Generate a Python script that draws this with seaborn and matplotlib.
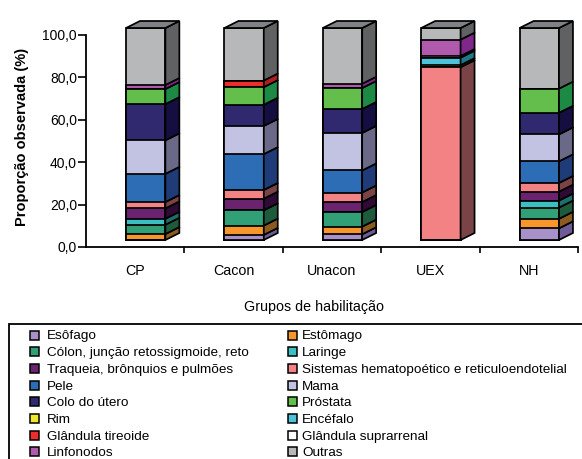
import numpy as np
import pandas as pd
import matplotlib
matplotlib.use("Agg")
import matplotlib.pyplot as plt
import seaborn as sns
from matplotlib.patches import Polygon, Rectangle
from matplotlib.transforms import ScaledTranslation

# ---- data -------------------------------------------------------------
groups = ["CP", "Cacon", "Unacon", "UEX", "NH"]

esofago = [0.0, 2.4, 2.7, 0.0, 5.5]
estomago = [2.8, 4.4, 3.6, 0.0, 4.5]
colon = [4.4, 7.2, 6.9, 0.0, 5.3]
laringe = [2.8, 0.0, 0.0, 0.0, 3.3]
traqueia = [4.9, 5.5, 4.7, 0.0, 4.2]
hemato = [3.0, 4.1, 4.5, 81.5, 4.1]
pele = [13.3, 16.9, 10.4, 0.0, 10.2]
mama = [15.8, 13.3, 17.7, 0.0, 12.7]
colo_utero = [17.1, 10.0, 11.3, 0.0, 10.2]
prostata = [7.1, 8.3, 9.9, 0.0, 11.4]
rim = [0.0, 0.0, 0.0, 1.0, 0.0]
encefalo = [0.0, 0.0, 0.0, 3.5, 0.0]
tireoide = [0.0, 3.1, 0.0, 0.0, 0.0]
suprarrenal = [0.0, 0.0, 0.0, 0.8, 0.0]
linfonodos = [1.9, 0.0, 2.0, 7.7, 0.0]
outras = [26.9, 24.8, 26.3, 5.5, 28.6]

sites = [
    "Esôfago", "Estômago",
    "Cólon, junção retossigmoide, reto", "Laringe",
    "Traqueia, brônquios e pulmões", "Sistemas hematopoético e reticuloendotelial",
    "Pele", "Mama",
    "Colo do útero", "Próstata",
    "Rim", "Encéfalo",
    "Glândula tireoide", "Glândula suprarrenal",
    "Linfonodos", "Outras",
]
series = [esofago, estomago, colon, laringe, traqueia, hemato, pele, mama,
          colo_utero, prostata, rim, encefalo, tireoide, suprarrenal,
          linfonodos, outras]

ytick_values = [0, 20, 40, 60, 80, 100]
ytick_labels = ["0,0", "20,0", "40,0", "60,0", "80,0", "100,0"]

# ---- colours ----------------------------------------------------------
front_colors = [
    "#A890C8", "#F6962B", "#31A077", "#3BBFC0", "#6B2370", "#F28283",
    "#2D6DB5", "#C2C2E2", "#30296F", "#63BE4B", "#EEE82A", "#4DC3D9",
    "#ED2D2D", "#FFFFFF", "#B05AAE", "#B7B8BA",
]
side_colors = [
    "#6E5A96", "#8A5A1E", "#1E5A3C", "#1E6E6E", "#2E0A35", "#7A4446",
    "#1F3C78", "#6A6A88", "#150E40", "#1C8A44", "#8A8A20", "#1E7A88",
    "#B01E1E", "#909090", "#80288A", "#606163",
]
top_color = "#808184"

# ---- figure -----------------------------------------------------------
W, H, DPI = 582, 459, 100
sns.set_theme(style="ticks")
plt.rcParams["font.family"] = ["Liberation Sans", "DejaVu Sans"]
plt.rcParams["text.color"] = "black"
plt.rcParams["axes.labelcolor"] = "black"

fig = plt.figure(figsize=(W / DPI, H / DPI), dpi=DPI)
fig.patch.set_facecolor("white")
ax = fig.add_axes([86 / W, 1 - 247 / H, 492 / W, 212 / H])
ax.set_facecolor("white")

df = pd.DataFrame(np.array(series).T, index=groups, columns=sites)
cum = df.cumsum(axis=1)

BAR_W = 0.4
EDGE = 1.25
# front faces: cumulative bars drawn from the top segment downwards
for j in reversed(range(len(sites))):
    sns.barplot(x=groups, y=cum.iloc[:, j].values, order=groups,
                color=front_colors[j], saturation=1, width=BAR_W,
                edgecolor="black", linewidth=EDGE, ax=ax)

# pseudo-3D: front plane shifted, plus side and top faces
shift = ScaledTranslation(10.5 / DPI, 7 / DPI, fig.dpi_scale_trans)
tr = ax.transData + shift
for p in ax.patches:
    p.set_transform(tr)
    p.set_clip_on(False)

DX, DY = 0.142, 3.3
for i in range(len(groups)):
    xr = i + BAR_W / 2
    xl = i - BAR_W / 2
    for j in range(len(sites)):
        v = df.iloc[i, j]
        if v <= 0:
            continue
        t = cum.iloc[i, j]
        b = t - v
        ax.add_patch(Polygon([(xr, b), (xr + DX, b + DY), (xr + DX, t + DY), (xr, t)],
                             closed=True, facecolor=side_colors[j], edgecolor="black",
                             linewidth=EDGE, transform=tr, clip_on=False))
    total = cum.iloc[i, -1]
    ax.add_patch(Polygon([(xl, total), (xr, total), (xr + DX, total + DY), (xl + DX, total + DY)],
                         closed=True, facecolor=top_color, edgecolor="black",
                         linewidth=EDGE, transform=tr, clip_on=False))

ax.set_xlim(-0.5, len(groups) - 0.5)
ax.set_ylim(0, 100)
ax.set_xlabel("")
ax.set_ylabel("")
sns.despine(ax=ax)
for s in ("left", "bottom"):
    ax.spines[s].set_color("black")
    ax.spines[s].set_linewidth(1.3)

ax.set_yticks(ytick_values)
ax.set_yticklabels(ytick_labels)
ax.tick_params(axis="y", direction="out", length=5.5, width=1.2, color="black",
               labelsize=10, pad=1, labelcolor="black")
ax.set_xticks(range(len(groups)))
ax.set_xticklabels(groups)
ax.set_xticks([k + 0.5 for k in range(len(groups))], minor=True)
ax.tick_params(axis="x", which="major", length=0, labelsize=10.3, pad=12, labelcolor="black")
ax.tick_params(axis="x", which="minor", direction="out", length=4, width=1.2, color="black")

fig.text(22 / W, 1 - 137 / H, "Proporção observada (%)", rotation=90,
         ha="center", va="center", fontsize=10.5, fontweight="bold")
fig.text(314 / W, 1 - 307 / H, "Grupos de habilitação", ha="center", va="center",
         fontsize=10.3)

# ---- legend box -------------------------------------------------------
fig.add_artist(Rectangle((9 / W, -0.05), 1.2, (1 - 324 / H) + 0.05,
                         transform=fig.transFigure, fill=False,
                         edgecolor="black", linewidth=1.3))
marker_x = [30, 288]
text_x = [47, 302]
MS = 9
for k, name in enumerate(sites):
    col, row = k % 2, k // 2
    yc = 335 + row * 16.7
    fig.add_artist(Rectangle((marker_x[col] / W, 1 - (yc + MS / 2) / H), MS / W, MS / H,
                             transform=fig.transFigure, facecolor=front_colors[k],
                             edgecolor="black", linewidth=1.1))
    fig.text(text_x[col] / W, 1 - yc / H, name, ha="left", va="center_baseline",
             fontsize=9.7)

fig.savefig("out.png", dpi=DPI, facecolor="white")
